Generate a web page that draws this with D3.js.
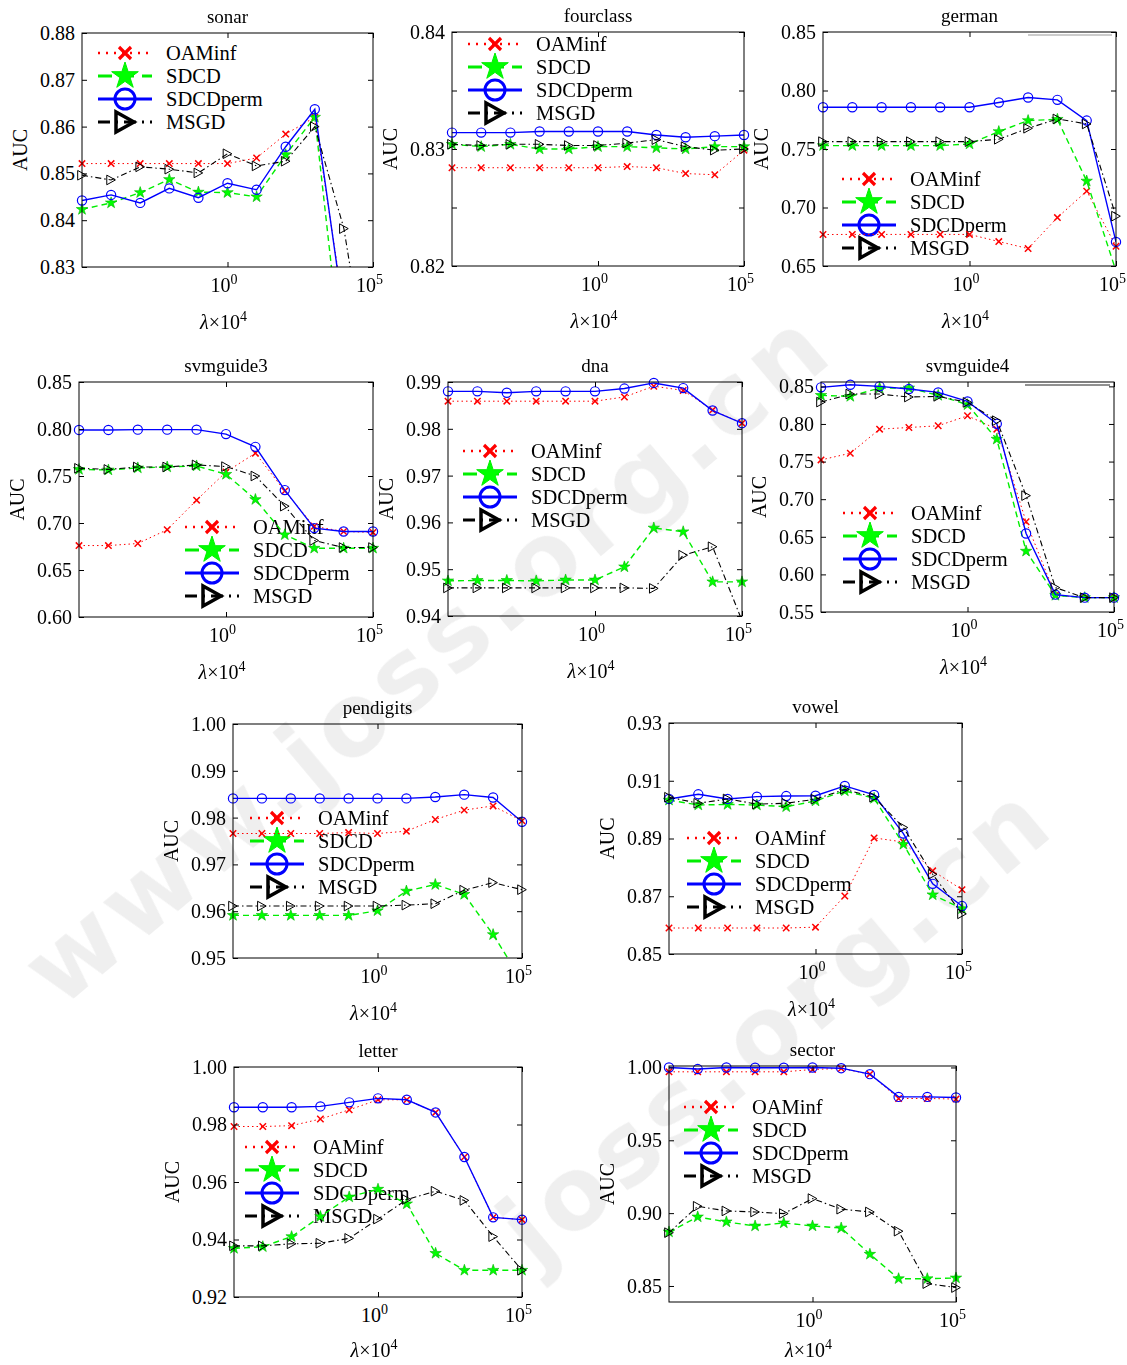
<!DOCTYPE html>
<html>
<head>
<meta charset="utf-8">
<script src="https://cdn.jsdelivr.net/npm/d3@7"></script>
<style>
body{margin:0;background:#fff}
svg text{font-family:"Liberation Serif","Times New Roman",serif;fill:#000}
svg text.wm{font-family:"DejaVu Sans",sans-serif;font-weight:bold;fill:#9a9a9a}
</style>
</head>
<body>
<svg id="fig" width="1127" height="1365"></svg>
<script>
// lambda grid shared by every curve
let lambdaGrid = [1e-5, 1e-4, 1e-3, 1e-2, 1e-1, 1e0, 1e1, 1e2, 1e3, 1e4, 1e5]
let methods = ['OAMinf', 'SDCD', 'SDCDperm', 'MSGD']
let xTickExps = [0, 5]

// AUC values, one row per method (OAMinf, SDCD, SDCDperm, MSGD)
let sonarAUC = [
  [0.8521, 0.8521, 0.8521, 0.8521, 0.8521, 0.8521, 0.8533, 0.8584, 0.8620, 0.8210, 0.8000],
  [0.8423, 0.8437, 0.8459, 0.8487, 0.8460, 0.8459, 0.8450, 0.8540, 0.8620, 0.8060, 0.8000],
  [0.8442, 0.8454, 0.8437, 0.8468, 0.8448, 0.8479, 0.8465, 0.8557, 0.8637, 0.8196, 0.8000],
  [0.8496, 0.8486, 0.8514, 0.8509, 0.8501, 0.8542, 0.8516, 0.8526, 0.8600, 0.8382, 0.8000]]
let fourclassAUC = [
  [0.8284, 0.8284, 0.8284, 0.8284, 0.8284, 0.8284, 0.8285, 0.8284, 0.8279, 0.8278, 0.8299],
  [0.8304, 0.8302, 0.8304, 0.8300, 0.8300, 0.8302, 0.8302, 0.8301, 0.8300, 0.8302, 0.8302],
  [0.8314, 0.8314, 0.8314, 0.8315, 0.8315, 0.8315, 0.8315, 0.8312, 0.8310, 0.8311, 0.8312],
  [0.8304, 0.8303, 0.8304, 0.8304, 0.8303, 0.8303, 0.8305, 0.8308, 0.8302, 0.8299, 0.8300]]
let germanAUC = [
  [0.6769, 0.6770, 0.6770, 0.6770, 0.6770, 0.6770, 0.6709, 0.6649, 0.6914, 0.7140, 0.6669],
  [0.7529, 0.7529, 0.7529, 0.7529, 0.7529, 0.7543, 0.7649, 0.7743, 0.7754, 0.7226, 0.6457],
  [0.7857, 0.7857, 0.7857, 0.7857, 0.7857, 0.7857, 0.7897, 0.7940, 0.7920, 0.7743, 0.6706],
  [0.7563, 0.7563, 0.7563, 0.7563, 0.7563, 0.7563, 0.7583, 0.7677, 0.7757, 0.7714, 0.6926]]
let svmguide3AUC = [
  [0.6760, 0.6760, 0.6782, 0.6929, 0.7243, 0.7543, 0.7743, 0.7340, 0.6964, 0.6910, 0.6900],
  [0.7570, 0.7564, 0.7586, 0.7596, 0.7607, 0.7518, 0.7250, 0.6875, 0.6732, 0.6732, 0.6732],
  [0.7990, 0.7990, 0.7993, 0.7993, 0.7993, 0.7946, 0.7810, 0.7350, 0.6946, 0.6910, 0.6910],
  [0.7582, 0.7570, 0.7596, 0.7596, 0.7618, 0.7600, 0.7500, 0.7179, 0.6814, 0.6739, 0.6739]]
let dnaAUC = [
  [0.9859, 0.9859, 0.9859, 0.9859, 0.9859, 0.9859, 0.9868, 0.9891, 0.9882, 0.9840, 0.9812],
  [0.9475, 0.9476, 0.9476, 0.9475, 0.9477, 0.9477, 0.9505, 0.9588, 0.9580, 0.9473, 0.9473],
  [0.9880, 0.9880, 0.9877, 0.9880, 0.9880, 0.9880, 0.9886, 0.9898, 0.9887, 0.9839, 0.9812],
  [0.9460, 0.9460, 0.9460, 0.9460, 0.9460, 0.9460, 0.9460, 0.9459, 0.9530, 0.9548, 0.9390]]
let svmguide4AUC = [
  [0.7522, 0.7611, 0.7931, 0.7953, 0.7976, 0.8109, 0.7931, 0.6700, 0.5722, 0.5691, 0.5691],
  [0.8380, 0.8367, 0.8478, 0.8478, 0.8380, 0.8256, 0.7798, 0.6309, 0.5722, 0.5691, 0.5691],
  [0.8487, 0.8522, 0.8500, 0.8464, 0.8420, 0.8300, 0.8002, 0.6544, 0.5731, 0.5691, 0.5691],
  [0.8291, 0.8398, 0.8398, 0.8358, 0.8367, 0.8287, 0.8044, 0.7047, 0.5824, 0.5691, 0.5691]]
let pendigitsAUC = [
  [0.9766, 0.9766, 0.9766, 0.9766, 0.9768, 0.9766, 0.9771, 0.9796, 0.9816, 0.9825, 0.9793],
  [0.9591, 0.9591, 0.9591, 0.9591, 0.9591, 0.9601, 0.9643, 0.9657, 0.9636, 0.9550, 0.9451],
  [0.9841, 0.9841, 0.9841, 0.9841, 0.9841, 0.9841, 0.9841, 0.9844, 0.9849, 0.9843, 0.9791],
  [0.9611, 0.9611, 0.9611, 0.9611, 0.9611, 0.9611, 0.9613, 0.9616, 0.9645, 0.9661, 0.9646]]
let vowelAUC = [
  [0.8590, 0.8590, 0.8590, 0.8590, 0.8590, 0.8593, 0.8701, 0.8902, 0.8888, 0.8788, 0.8723],
  [0.9033, 0.9016, 0.9018, 0.9016, 0.9010, 0.9030, 0.9065, 0.9039, 0.8880, 0.8705, 0.8657],
  [0.9037, 0.9053, 0.9037, 0.9045, 0.9047, 0.9048, 0.9082, 0.9051, 0.8917, 0.8743, 0.8666],
  [0.9043, 0.9022, 0.9037, 0.9019, 0.9022, 0.9036, 0.9070, 0.9043, 0.8938, 0.8776, 0.8639]]
let letterAUC = [
  [0.9793, 0.9793, 0.9796, 0.9819, 0.9851, 0.9886, 0.9886, 0.9842, 0.9687, 0.9477, 0.9469],
  [0.9369, 0.9375, 0.9410, 0.9480, 0.9548, 0.9575, 0.9524, 0.9352, 0.9293, 0.9293, 0.9293],
  [0.9860, 0.9860, 0.9860, 0.9863, 0.9877, 0.9891, 0.9886, 0.9842, 0.9687, 0.9477, 0.9469],
  [0.9378, 0.9378, 0.9385, 0.9387, 0.9404, 0.9471, 0.9539, 0.9568, 0.9536, 0.9410, 0.9293]]
let sectorAUC = [
  [0.9970, 0.9970, 0.9970, 0.9970, 0.9970, 0.9986, 0.9993, 0.9954, 0.9787, 0.9787, 0.9783],
  [0.8871, 0.8974, 0.8940, 0.8912, 0.8933, 0.8912, 0.8898, 0.8718, 0.8550, 0.8550, 0.8555],
  [1.0000, 0.9989, 1.0000, 0.9998, 0.9998, 1.0000, 0.9995, 0.9954, 0.9798, 0.9798, 0.9794],
  [0.8866, 0.9047, 0.9015, 0.9008, 0.8997, 0.9100, 0.9027, 0.9008, 0.8876, 0.8516, 0.8489]]

// y ranges and ticks
let sonarRange = [0.83, 0.88], sonarTicks = [0.83, 0.84, 0.85, 0.86, 0.87, 0.88]
let fourclassRange = [0.82, 0.84], fourclassTicks = [0.82, 0.825, 0.83, 0.835, 0.84]
let fourclassLabels = ['0.82', '', '0.83', '', '0.84']
let germanRange = [0.65, 0.85], germanTicks = [0.65, 0.70, 0.75, 0.80, 0.85]
let svmguide3Range = [0.60, 0.85], svmguide3Ticks = [0.60, 0.65, 0.70, 0.75, 0.80, 0.85]
let dnaRange = [0.94, 0.99], dnaTicks = [0.94, 0.95, 0.96, 0.97, 0.98, 0.99]
let svmguide4Range = [0.55, 0.8558], svmguide4Ticks = [0.55, 0.60, 0.65, 0.70, 0.75, 0.80, 0.85]
let pendigitsRange = [0.95, 1.00], pendigitsTicks = [0.95, 0.96, 0.97, 0.98, 0.99, 1.00]
let vowelRange = [0.85, 0.93], vowelTicks = [0.85, 0.87, 0.89, 0.91, 0.93]
let letterRange = [0.92, 1.00], letterTicks = [0.92, 0.94, 0.96, 0.98, 1.00]
let sectorRange = [0.839, 1.001], sectorTicks = [0.85, 0.90, 0.95, 1.00]

// line / marker look per method
let styles = {
  OAMinf:   {color: '#ff0000', dash: '1.5,3', width: 1, marker: 'x', size: 3.2, mw: 1.5, fill: 'none',
             lDash: '2,6', lWidth: 2.5, lSize: 6, lmw: 3.2},
  SDCD:     {color: '#00ee00', dash: '6,4', width: 1.4, marker: 'star', size: 6, mw: 0.6, fill: '#00ff00',
             lDash: '14,8', lWidth: 3, lSize: 14, lmw: 1},
  SDCDperm: {color: '#0000ff', dash: null, width: 1.4, marker: 'circle', size: 4.6, mw: 1.2, fill: 'none',
             lDash: null, lWidth: 3, lSize: 10, lmw: 3},
  MSGD:     {color: '#000000', dash: '6,3,1.5,3', width: 1.1, marker: 'tri', size: 4.8, mw: 1, fill: 'none',
             lDash: '12,6,2,6', lWidth: 3, lSize: 10, lmw: 3.5}
}

// panel layout: box = [left, right, top, bottom], legend = [line start x, first row y]
let panels = [
  {name: 'sonar', data: sonarAUC, range: sonarRange, ticks: sonarTicks, box: [82, 373, 33, 267], legend: [98, 53]},
  {name: 'fourclass', data: fourclassAUC, range: fourclassRange, ticks: fourclassTicks, labels: fourclassLabels,
   box: [452, 744, 32, 266], legend: [468, 44]},
  {name: 'german', data: germanAUC, range: germanRange, ticks: germanTicks, box: [823, 1116, 32, 266],
   legend: [842, 179], stray: [1028, 1112, 35, '#999']},
  {name: 'svmguide3', data: svmguide3AUC, range: svmguide3Range, ticks: svmguide3Ticks, box: [79, 373, 382, 617], legend: [185, 527]},
  {name: 'dna', data: dnaAUC, range: dnaRange, ticks: dnaTicks, box: [448, 742, 382, 616], legend: [463, 451]},
  {name: 'svmguide4', data: svmguide4AUC, range: svmguide4Range, ticks: svmguide4Ticks, box: [821, 1114, 382, 612],
   legend: [843, 513], stray: [1025, 1110, 385, '#222']},
  {name: 'pendigits', data: pendigitsAUC, range: pendigitsRange, ticks: pendigitsTicks, box: [233, 522, 724, 958], legend: [250, 818]},
  {name: 'vowel', data: vowelAUC, range: vowelRange, ticks: vowelTicks, box: [669, 962, 723, 954], legend: [687, 838]},
  {name: 'letter', data: letterAUC, range: letterRange, ticks: letterTicks, box: [234, 522, 1067, 1297], legend: [245, 1147]},
  {name: 'sector', data: sectorAUC, range: sectorRange, ticks: sectorTicks, box: [669, 956, 1066, 1302], legend: [684, 1107]}
]

let svg = d3.select('#fig')
let fmt = d3.format('.2f')

let markerPath = (type, s) => {
  if (type === 'x') return `M${-s},${-s}L${s},${s}M${-s},${s}L${s},${-s}`
  if (type === 'circle') return d3.symbol(d3.symbolCircle, Math.PI * s * s)()
  if (type === 'star') return d3.symbol(d3.symbolStar, s * s / 0.8908130915292852)()
  // right-pointing triangle
  return `M${s * 0.9},0L${-s * 0.9},${-s}L${-s * 0.9},${s}Z`
}

// faint site watermark behind everything
let watermark = svg.append('g').attr('opacity', 0.16)
watermark.append('text').attr('class', 'wm')
  .attr('transform', 'translate(60,1010) rotate(-40)')
  .style('font-size', '100px').style('letter-spacing', '6px')
  .text('www.joss.org.cn')
watermark.append('text').attr('class', 'wm')
  .attr('transform', 'translate(1060,830) rotate(-40)')
  .attr('text-anchor', 'end')
  .style('font-size', '100px').style('letter-spacing', '6px')
  .text('joss.org.cn')

let drawPanel = (p, k) => {
  let [left, right, top, bottom] = p.box
  let x = d3.scaleLog().domain([1e-5, 1e5]).range([left, right])
  let y = d3.scaleLinear().domain(p.range).range([bottom, top])
  let g = svg.append('g')

  g.append('clipPath').attr('id', 'clip' + k)
    .append('rect').attr('x', left).attr('y', top)
    .attr('width', right - left).attr('height', bottom - top)

  // legend, no frame
  methods.forEach((m, i) => {
    let st = styles[m]
    let lx = p.legend[0]
    let ly = p.legend[1] + i * 23
    g.append('line')
      .attr('x1', lx).attr('x2', lx + 54).attr('y1', ly).attr('y2', ly)
      .attr('stroke', st.color).attr('stroke-width', st.lWidth)
      .attr('stroke-dasharray', st.lDash)
    g.append('path')
      .attr('d', markerPath(st.marker, st.lSize))
      .attr('transform', `translate(${lx + 27},${ly})`)
      .attr('fill', st.fill).attr('stroke', st.color).attr('stroke-width', st.lmw)
    g.append('text')
      .attr('x', lx + 68).attr('y', ly).attr('dy', '0.35em')
      .style('font-size', '20.5px')
      .text(m)
  })

  if (p.stray) {
    g.append('line').attr('x1', p.stray[0]).attr('x2', p.stray[1])
      .attr('y1', p.stray[2]).attr('y2', p.stray[2])
      .attr('stroke', p.stray[3]).attr('stroke-width', 1)
  }

  let line = d3.line()
    .x((d, i) => x(lambdaGrid[i]))
    .y(d => y(d))

  methods.forEach((m, i) => {
    let st = styles[m]
    g.append('path')
      .datum(p.data[i])
      .attr('clip-path', `url(#clip${k})`)
      .attr('d', line)
      .attr('fill', 'none')
      .attr('stroke', st.color)
      .attr('stroke-width', st.width)
      .attr('stroke-dasharray', st.dash)
    let pts = p.data[i].map((v, j) => [lambdaGrid[j], v])
      .filter(d => d[1] >= p.range[0] - 1e-9 && d[1] <= p.range[1] + 1e-9)
    g.selectAll(null)
      .data(pts)
      .enter()
      .append('path')
      .attr('d', markerPath(st.marker, st.size))
      .attr('transform', d => `translate(${x(d[0])},${y(d[1])})`)
      .attr('fill', st.fill)
      .attr('stroke', st.marker === 'star' ? '#00b400' : st.color)
      .attr('stroke-width', st.mw)
  })

  // axes, ticks pointing inward
  let yAxis = g.append('g')
    .attr('transform', `translate(${left},0)`)
    .call(d3.axisLeft(y).tickValues(p.ticks).tickSize(-5).tickPadding(7)
      .tickFormat((d, i) => p.labels ? p.labels[i] : fmt(d)))
  yAxis.attr('font-size', 20).attr('font-family', null)
  yAxis.select('.domain').remove()

  g.append('g')
    .attr('transform', `translate(${right},0)`)
    .call(d3.axisRight(y).tickValues(p.ticks).tickSize(-5).tickFormat(''))
    .select('.domain').remove()

  let xAxis = g.append('g')
    .attr('transform', `translate(0,${bottom})`)
    .call(d3.axisBottom(x).tickValues(xTickExps.map(e => Math.pow(10, e))).tickSize(-5).tickFormat(''))
  xAxis.select('.domain').remove()
  xAxis.selectAll('.tick text').remove()
  xAxis.selectAll('.tick').each(function (d, i) {
    let t = d3.select(this).append('text')
      .attr('x', -4).attr('y', 25)
      .attr('text-anchor', 'middle')
      .attr('font-family', null)
    t.append('tspan').style('font-size', '20px').text('10')
    t.append('tspan').style('font-size', '14px').attr('dy', -8).text(xTickExps[i])
  })

  g.append('g')
    .attr('transform', `translate(0,${top})`)
    .call(d3.axisTop(x).tickValues(xTickExps.map(e => Math.pow(10, e))).tickSize(-5).tickFormat(''))
    .select('.domain').remove()

  g.append('rect')
    .attr('x', left).attr('y', top)
    .attr('width', right - left).attr('height', bottom - top)
    .attr('fill', 'none').attr('stroke', '#000').attr('stroke-width', 1)

  // labels
  g.append('text')
    .attr('x', (left + right) / 2).attr('y', top - 10)
    .attr('text-anchor', 'middle')
    .style('font-size', '19px')
    .text(p.name)

  g.append('text')
    .attr('transform', `translate(${left - 62},${(top + bottom) / 2}) rotate(-90)`)
    .attr('text-anchor', 'middle').attr('dy', '0.35em')
    .style('font-size', '20px')
    .text('AUC')

  let xl = g.append('text')
    .attr('x', (left + right) / 2 - 4).attr('y', Math.min(bottom + 62, 1357))
    .attr('text-anchor', 'middle')
    .style('font-size', '20px')
  xl.append('tspan').style('font-style', 'italic').text('λ')
  xl.append('tspan').text('×10')
  xl.append('tspan').style('font-size', '14px').attr('dy', -8).text('4')
}

panels.forEach(drawPanel)
</script>
</body>
</html>
